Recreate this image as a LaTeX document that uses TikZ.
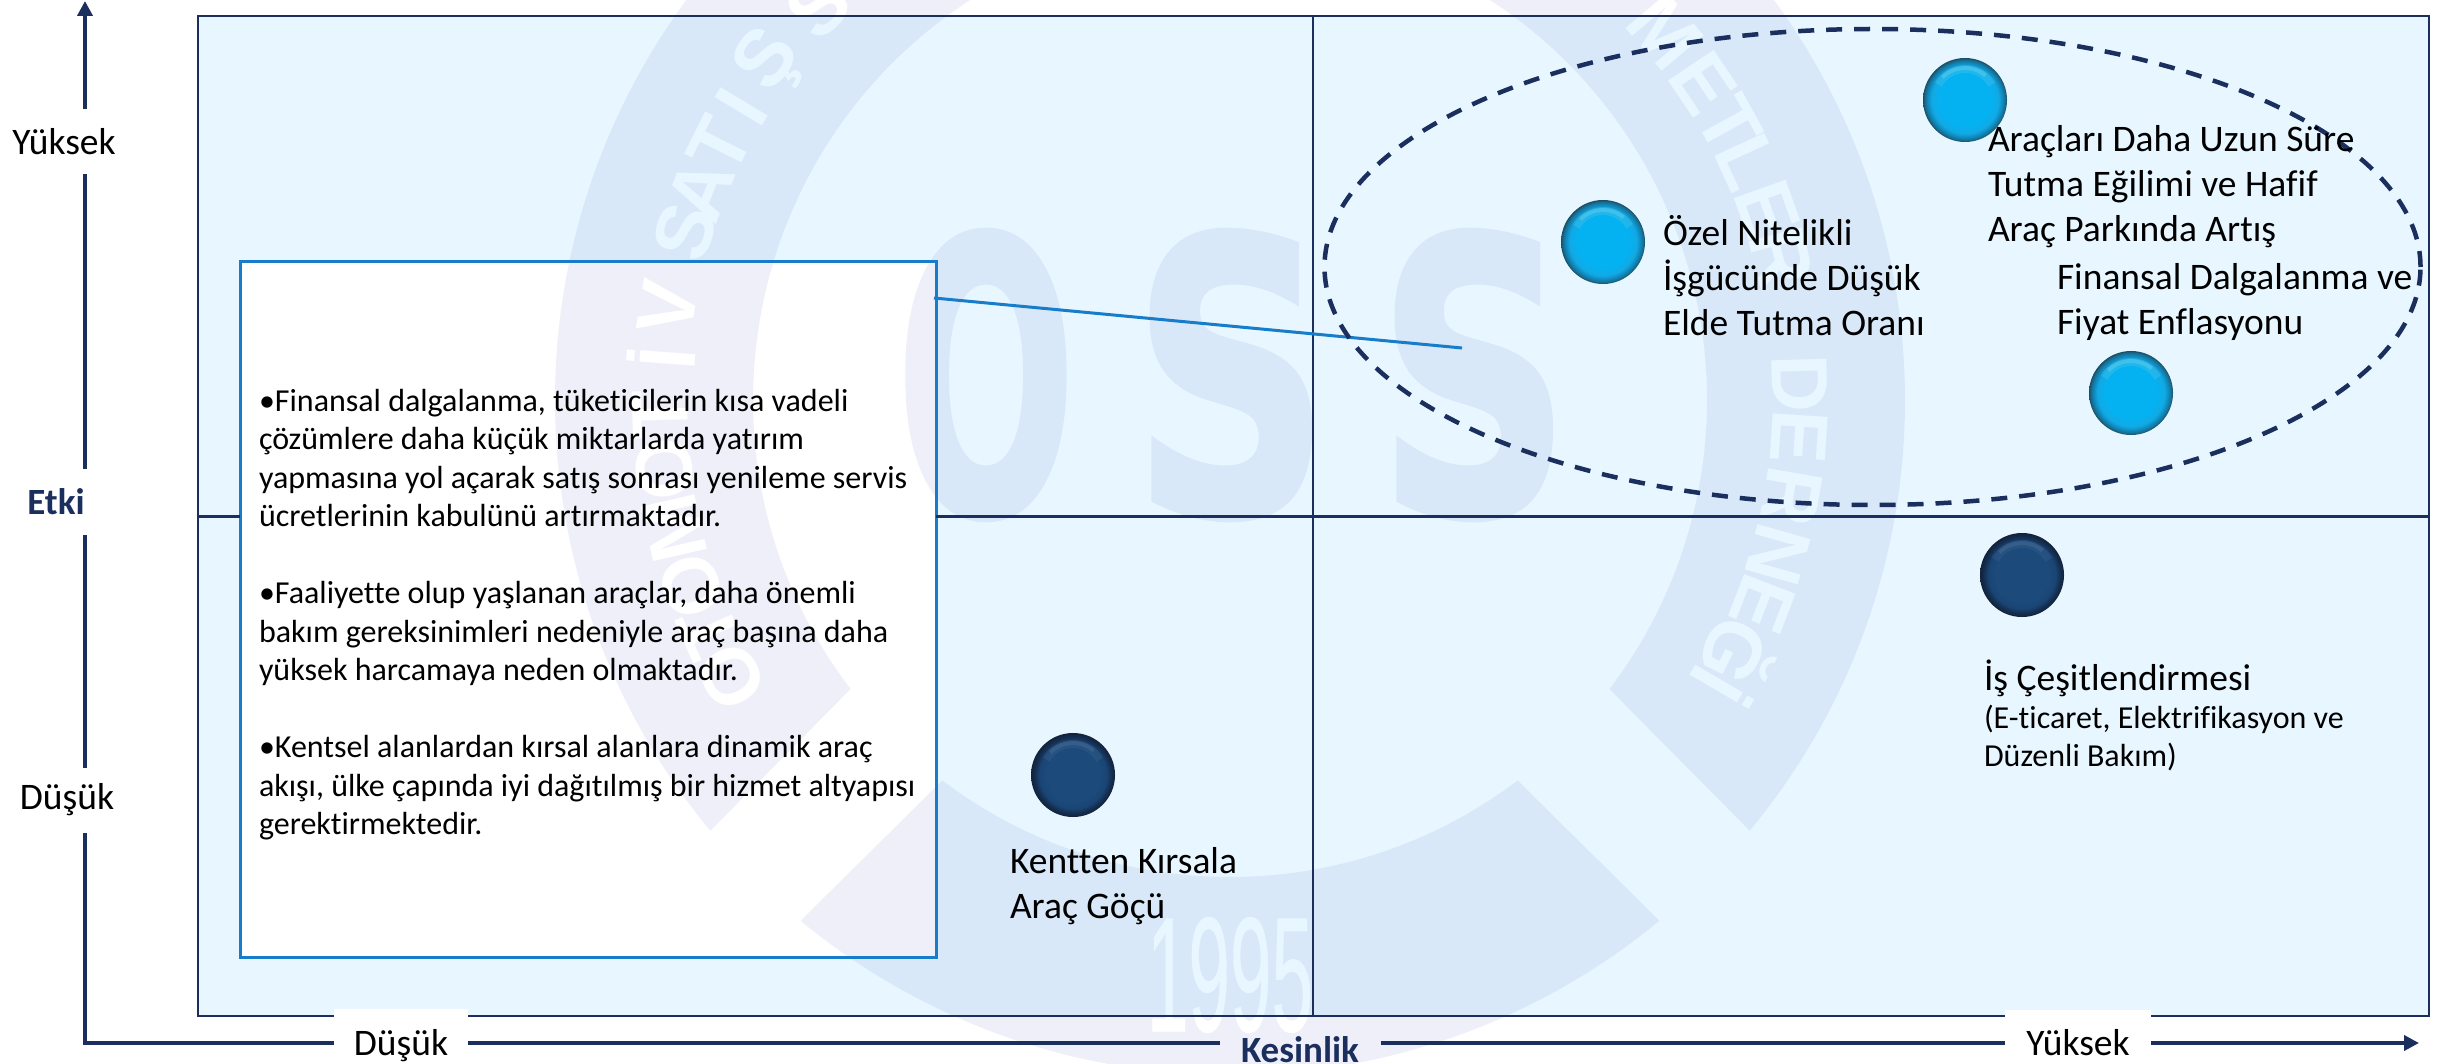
\documentclass[tikz,border=0pt]{standalone}
\usepackage{fontspec}
\usepackage{graphicx}
\setmainfont{Carlito}[Ligatures=NoCommon]
\newfontfamily\wmf{DejaVu Sans}[BoldFeatures={FakeBold=1.2}]
\newfontfamily\wml{Liberation Sans}
\newfontfamily\wmy{Liberation Sans}[FakeBold=.5]
\usetikzlibrary{arrows.meta,shapes.geometric}
\definecolor{navy}{HTML}{1B2F5E}
\definecolor{boxblue}{HTML}{177CC9}
\definecolor{lavender}{HTML}{EEEFF9}
\definecolor{frametint}{rgb}{0,.655,1}
\definecolor{ca}{HTML}{04B2F2}
\definecolor{cb}{HTML}{12A9E4}
\definecolor{cc}{HTML}{0E86B8}
\definecolor{cd}{HTML}{1A6A8C}
\definecolor{ce}{HTML}{164E66}
\definecolor{da}{HTML}{1C4B7B}
\definecolor{db}{HTML}{1A4575}
\definecolor{dc}{HTML}{143054}
\definecolor{dd}{HTML}{122238}
\definecolor{hlc}{HTML}{7FE2F5}
\definecolor{hld}{HTML}{5C7FA8}
\pgfdeclareradialshading{ballcyan}{\pgfpoint{0bp}{0bp}}{color(0bp)=(ca);color(15bp)=(ca);color(20bp)=(cb);color(22.5bp)=(cc);color(24bp)=(cd);color(25bp)=(ce);color(50bp)=(ce)}
\pgfdeclareradialshading{balldark}{\pgfpoint{0bp}{0bp}}{color(0bp)=(da);color(15bp)=(da);color(20bp)=(db);color(22.5bp)=(dc);color(25bp)=(dd);color(50bp)=(dd)}
\tikzset{
  ballnode/.style={circle,minimum size=84pt,inner sep=0pt,shading=#1},
  plain/.style={inner sep=0pt,outer sep=0pt,text=black},
  lab/.style={plain,font=\fontsize{37.5}{45}\selectfont,align=left,anchor=west},
  smalllab/.style={plain,font=\fontsize{32}{38.5}\selectfont,align=left,anchor=west},
  axislab/.style={plain,font=\fontsize{37.5}{40}\selectfont,align=center},
  axisbold/.style={plain,font=\fontsize{37}{40}\selectfont\bfseries,text=navy,align=center},
  axisline/.style={draw=navy,line width=4pt},
  frameline/.style={draw=navy,line width=2.5pt},
  wmletter/.style={inner sep=0pt,text=white,font=\wml\bfseries\fontsize{80}{80}\selectfont},
}
\newcommand{\ballhl}[2]{%
  \begin{scope}[shift={(#1.center)},y=1pt]
    \draw[#2,line width=8pt,opacity=.18] (150:31) arc (150:30:31);
    \draw[#2,line width=4pt,opacity=.30] (135:32) arc (135:50:32);
  \end{scope}}
\begin{document}
\begin{tikzpicture}[x=1pt,y=-1pt]
\useasboundingbox (0,0) rectangle (2443,1064);
\clip (0,0) rectangle (2443,1064);
\fill[white] (0,0) rectangle (2443,1064);
% watermark
\begin{scope}[shift={(1230,400)},y=1pt]
  \fill[lavender] (-39.65:675) arc (-39.65:219.65:675) -- (217.3:477) arc (217.3:-37.3:477) -- cycle;
  \fill[lavender] (-50.5:675) arc (-50.5:-129.5:675) -- (-127.1:477) arc (-127.1:-52.9:477) -- cycle;
  \foreach \l/\a in {O/209,T/204,O/199,M/193,O/187,T/181.5,İ/175.8,V/170.7,S/162.8,A/158.3,T/153.5,I/149,Ş/143.7,S/136.3,M/40.2,E/33.8,T/28.9,L/24.7,E/19.5,R/14.5,D/1.7,E/-3.7,R/-9.8,N/-15.8,E/-21,Ğ/-26.5,İ/-30.3}
    {\node[wmletter,rotate=\a-90] at (\a:570) {\l};}
\end{scope}
\node[inner sep=0pt,text=lavender] (wmo) at (986,375) {\resizebox{180pt}{284pt}{\wmf\bfseries O}};
\node[inner sep=0pt,text=lavender] (wms) at (1231,375) {\resizebox{199pt}{284pt}{\wmf\bfseries S}};
\node[inner sep=0pt,text=lavender] (wmt) at (1474,375) {\resizebox{194pt}{284pt}{\wmf\bfseries S}};
\node[inner sep=0pt,text=white] (wmy) at (1230,975) {\resizebox{166pt}{114pt}{\wmy 1995}};
% frame tint, with the white box left open
\fill[frametint,opacity=.09,even odd rule] (198,16) rectangle (2429,1016) (240,262) rectangle (936,957);
% frame
\node[frameline,minimum width=2231pt,minimum height=1000pt,inner sep=0pt] (frame) at (1313.5,516) {};
\coordinate (vt) at (1313,16);
\coordinate (vb) at (1313,1016);
\draw[frameline] (vt) -- (vb);
% body box
\node[plain,draw=boxblue,line width=3pt,minimum width=696pt,minimum height=695pt] (box) at (588,609.5) {};
\node[plain,anchor=west,align=left,font=\fontsize{32}{38.5}\selectfont] (boxtext) at (259,614.5) {•Finansal dalgalanma, tüketicilerin kısa vadeli\\çözümlere daha küçük miktarlarda yatırım\\yapmasına yol açarak satış sonrası yenileme servis\\ücretlerinin kabulünü artırmaktadır.\\[38.5pt]•Faaliyette olup yaşlanan araçlar, daha önemli\\bakım gereksinimleri nedeniyle araç başına daha\\yüksek harcamaya neden olmaktadır.\\[38.5pt]•Kentsel alanlardan kırsal alanlara dinamik araç\\akışı, ülke çapında iyi dağıtılmış bir hizmet altyapısı\\gerektirmektedir.};
\draw[frameline,line width=3pt] (frame.west) -- (frame.west -| box.west);
\draw[frameline,line width=3pt] (frame.east -| box.east) -- (frame.east);
% connector
\coordinate (ls) at (934,298);
\coordinate (le) at (1462,348);
\draw[boxblue,line width=3pt] (ls) -- (le);
% dashed ellipse
\node[ellipse,draw=navy,line width=4.5pt,dash pattern=on 16pt off 12pt,minimum width=1096pt,minimum height=476pt,inner sep=0pt] (group) at (1872.5,267) {};
% balls
\node[ballnode=ballcyan] (b1) at (1603,242) {};
\node[ballnode=ballcyan] (b2) at (1965,100) {};
\node[ballnode=ballcyan] (b3) at (2131,393) {};
\node[ballnode=balldark] (b4) at (2022,575) {};
\node[ballnode=balldark] (b5) at (1073,775) {};
\ballhl{b1}{hlc}\ballhl{b2}{hlc}\ballhl{b3}{hlc}
\ballhl{b4}{hld}\ballhl{b5}{hld}
% labels
\node[lab] (t1) at (1663,275.5) {Özel Nitelikli\\İşgücünde Düşük\\Elde Tutma Oranı};
\node[lab] (t2) at (1988,187) {Araçları Daha Uzun Süre\\Tutma Eğilimi ve Hafif\\Araç Parkında Artış};
\node[lab] (t3) at (2057,302.5) {Finansal Dalgalanma ve\\Fiyat Enflasyonu};
\node[lab] (t4) at (1984,678) {İş Çeşitlendirmesi};
\node[smalllab] (t4b) at (1984,738) {(E-ticaret, Elektrifikasyon ve\\Düzenli Bakım)};
\node[lab] (t5) at (1010,886.5) {Kentten Kırsala\\Araç Göçü};
% axes
\coordinate (org) at (85,1043);
\coordinate (ytop) at (85,1);
\coordinate (xend) at (2419,1043);
\node[axislab,minimum height=65pt] (yhi) at (64,142) {Yüksek};
\node[axisbold,minimum height=66pt] (yet) at (56,502) {Etki};
\node[axislab,minimum height=65pt] (ylo) at (67,800) {Düşük};
\node[axislab,fill=white,minimum width=134pt,minimum height=74pt] (xlo) at (401,1046) {Düşük};
\node[axisbold,minimum width=161pt] (xke) at (1300,1050) {Kesinlik};
\node[axislab,fill=white,minimum width=146pt,minimum height=66pt] (xhi) at (2078,1043) {Yüksek};
\draw[axisline] (org) -- (org |- ylo.south);
\draw[axisline] (org |- ylo.north) -- (org |- yet.south);
\draw[axisline] (org |- yet.north) -- (org |- yhi.south);
\draw[axisline,-{Triangle[length=15pt,width=15pt]}] (org |- yhi.north) -- (ytop);
\draw[axisline] ([xshift=-2pt]org) -- (org -| xlo.west);
\draw[axisline] (org -| xlo.east) -- (org -| xke.west);
\draw[axisline] (org -| xke.east) -- (org -| xhi.west);
\draw[axisline,-{Triangle[length=15pt,width=15pt]}] (org -| xhi.east) -- (xend);
\end{tikzpicture}
\end{document}
